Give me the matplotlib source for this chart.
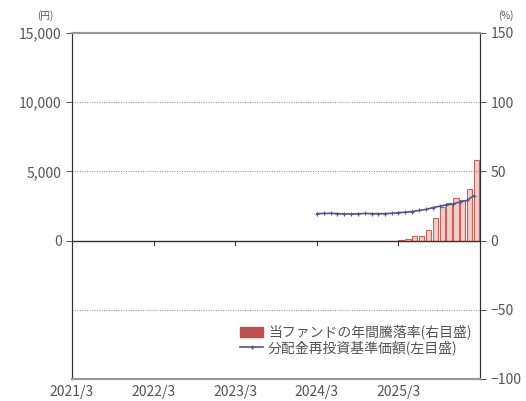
import datetime as dt
import matplotlib
matplotlib.use('Agg')
from matplotlib import pyplot as plt
from matplotlib.patches import Patch
from matplotlib.lines import Line2D

plt.rcParams['font.family'] = ['Noto Sans CJK JP', 'DejaVu Sans']

# monthly NAV (dividends reinvested), yen, 2024/3 - 2026/2
nav_months = [(2024, m) for m in range(3, 13)] + [(2025, m) for m in range(1, 13)] + [(2026, m) for m in range(1, 3)]
nav_values = [1950, 1960, 1970, 1950, 1930, 1920, 1940, 1960, 1950, 1940,
              1950, 1970, 2020, 2050, 2100, 2180, 2250, 2380, 2480, 2580,
              2650, 2800, 2900, 3250]

# annual return of the fund, %, 2025/3 - 2026/2
ret_months = [(2025, m) for m in range(3, 13)] + [(2026, m) for m in range(1, 3)]
ret_values = [0.5, 1.0, 3.5, 3.5, 8, 16.5, 24, 27, 31, 29, 37, 58]

x_ticks = ['2021/3', '2022/3', '2023/3', '2024/3', '2025/3']

nav_dates = [dt.date(y, m, 1) for y, m in nav_months]
ret_dates = [dt.date(y, m, 1) for y, m in ret_months]
tick_dates = [dt.date(int(s.split('/')[0]), int(s.split('/')[1]), 1) for s in x_ticks]

fig = plt.figure(figsize=(5.26, 4.01), dpi=100)
ax = fig.add_axes([72 / 526, 1 - 379 / 401, 408 / 526, 346 / 401])
ax2 = ax.twinx()

ax2.bar(ret_dates, ret_values, width=24, align='edge',
        facecolor='#f4cdc9', edgecolor='#c8645e', linewidth=0.8, zorder=2)
ax2.set_ylim(-100, 150)
ax2.set_yticks([-100, -50, 0, 50, 100, 150])

ax.plot(nav_dates, nav_values, color='#55558a', linewidth=1.2,
        marker='+', markersize=3, markeredgewidth=0.8, zorder=3)
ax.set_ylim(-10000, 15000)
ax.set_yticks([0, 5000, 10000, 15000])
ax.set_yticklabels(['0', '5,000', '10,000', '15,000'])
ax.set_xlim(dt.date(2021, 3, 1), dt.date(2026, 3, 1))
ax.set_xticks(tick_dates)
ax.set_xticklabels(x_ticks)
ax.set_zorder(ax2.get_zorder() + 1)
ax.patch.set_visible(False)

# grid lines
for v in [5000, 10000, -5000]:
    ax.axhline(v, color='#888888', linestyle=(0, (1, 1.5)), linewidth=0.7, zorder=1)
ax.axhline(0, color='#333333', linewidth=1.0, zorder=4)
# x ticks sit on the zero line
for d in tick_dates[1:]:
    ax.plot([d, d], [0, -350], color='#333333', linewidth=0.8, zorder=4)

for a in (ax, ax2):
    a.spines['top'].set_color('#999999')
    a.spines['top'].set_linewidth(1.5)
    a.spines['bottom'].set_color('#999999')
    a.spines['bottom'].set_linewidth(1.5)
    a.spines['left'].set_color('#333333')
    a.spines['right'].set_color('#333333')
    a.tick_params(labelsize=10, colors='#555555', length=4, width=0.7)
ax.tick_params(axis='x', length=0, pad=4)

fig.text(72 / 526 - 0.05, 1 - 19 / 401, '(円)', fontsize=7, color='#555555', ha='center')
fig.text(480 / 526 + 0.05, 1 - 19 / 401, '(%)', fontsize=7, color='#555555', ha='center')

handles = [Patch(facecolor='#c0504d', edgecolor='#c0504d'),
           Line2D([], [], color='#55558a', marker='+', markersize=3, linewidth=1.2)]
labels = ['当ファンドの年間騰落率(右目盛)', '分配金再投資基準価額(左目盛)']
leg = ax.legend(handles, labels, loc='lower right', bbox_to_anchor=(1.0, 0.045),
                frameon=False, fontsize=10, handlelength=1.6, handletextpad=0.4,
                labelspacing=0.05, borderaxespad=0.2)
for t in leg.get_texts():
    t.set_color('#555555')

plt.savefig('out.png', dpi=100)
